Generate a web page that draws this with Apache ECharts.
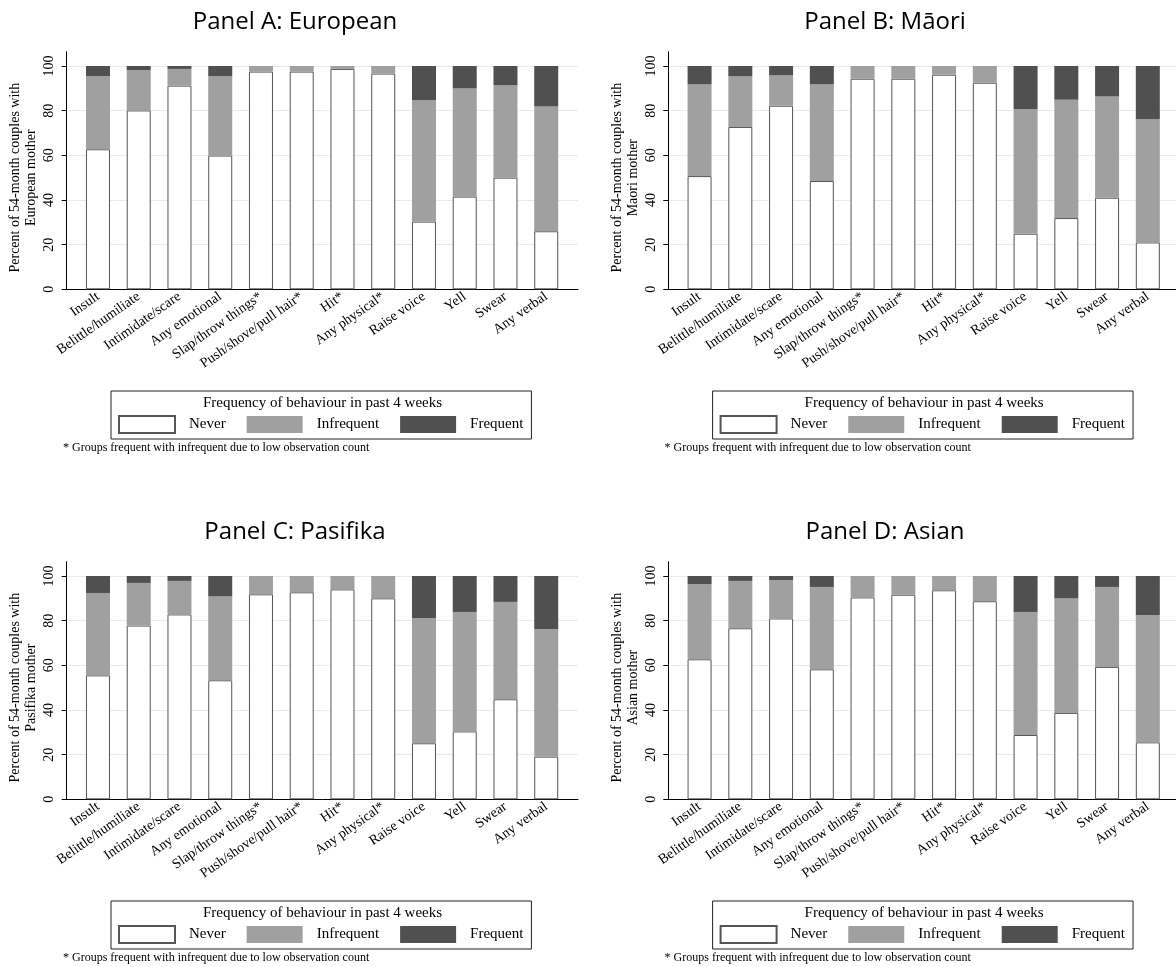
<!DOCTYPE html>
<html>
<head>
<meta charset="utf-8">
<script src="https://cdn.jsdelivr.net/npm/echarts@6/dist/echarts.min.js"></script>
<style>
  html, body { margin: 0; padding: 0; background: #fff; }
  #chart { width: 1176px; height: 967px; }
</style>
</head>
<body>
<div id="chart"></div>
<script>
// Behaviour categories shown on every panel's x axis
const categories = ["Insult", "Belittle/humiliate", "Intimidate/scare", "Any emotional",
  "Slap/throw things*", "Push/shove/pull hair*", "Hit*", "Any physical*",
  "Raise voice", "Yell", "Swear", "Any verbal"];

const seriesNames = ["Never", "Infrequent", "Frequent"];
const yTicks = [0, 20, 40, 60, 80, 100];

// Percent of couples in each frequency group (segments stack to 100)
const europeanNever      = [62.7, 80.1, 91.2, 59.9, 97.5, 97.5, 98.7, 96.6, 30.3, 41.5, 50.0, 26.0];
const europeanInfrequent = [32.8, 18.0,  7.5, 35.6,  2.5,  2.5,  1.3,  3.4, 54.3, 48.5, 41.3, 55.9];
const europeanFrequent   = [ 4.5,  1.9,  1.3,  4.5,  0,    0,    0,    0,   15.4, 10.0,  8.7, 18.1];

const maoriNever      = [50.7, 72.7, 82.2, 48.5, 94.3, 94.3, 96.1, 92.5, 24.9, 31.9, 41.0, 21.0];
const maoriInfrequent = [41.1, 22.7, 13.6, 43.3,  5.7,  5.7,  3.9,  7.5, 55.7, 53.0, 45.4, 55.1];
const maoriFrequent   = [ 8.2,  4.6,  4.2,  8.2,  0,    0,    0,    0,   19.4, 15.1, 13.6, 23.9];

const pasifikaNever      = [55.5, 77.8, 82.8, 53.3, 91.8, 92.7, 94.0, 90.0, 25.1, 30.4, 44.8, 19.1];
const pasifikaInfrequent = [36.9, 19.1, 15.0, 37.7,  8.2,  7.3,  6.0, 10.0, 56.1, 53.5, 43.6, 57.2];
const pasifikaFrequent   = [ 7.6,  3.1,  2.2,  9.0,  0,    0,    0,    0,   18.8, 16.1, 11.6, 23.7];

const asianNever      = [62.7, 76.6, 81.0, 58.2, 90.4, 91.6, 93.6, 88.7, 28.8, 38.7, 59.3, 25.5];
const asianInfrequent = [33.7, 21.2, 17.2, 36.9,  9.6,  8.4,  6.4, 11.3, 55.1, 51.4, 35.8, 57.0];
const asianFrequent   = [ 3.6,  2.2,  1.8,  4.9,  0,    0,    0,    0,   16.1,  9.9,  4.9, 17.5];

const panelTitles = ["Panel A: European", "Panel B: M\u0101ori", "Panel C: Pasifika", "Panel D: Asian"];
const yTitles = [
  "Percent of 54-month couples with\nEuropean mother",
  "Percent of 54-month couples with\nMaori mother",
  "Percent of 54-month couples with\nPasifika mother",
  "Percent of 54-month couples with\nAsian mother"
];
const legendTitle = "Frequency of behaviour in past 4 weeks";
const footnote = "* Groups frequent with infrequent due to low observation count";

const panelData = [
  [europeanNever, europeanInfrequent, europeanFrequent],
  [maoriNever, maoriInfrequent, maoriFrequent],
  [pasifikaNever, pasifikaInfrequent, pasifikaFrequent],
  [asianNever, asianInfrequent, asianFrequent]
];

// Layout of one panel, shifted per panel
const panelOffsets = [[0, 0], [601.6, 0], [0, 510], [601.6, 510]];
const titleCenters = [[295, 22], [885, 22], [295, 532], [885, 532]];

const SERIF = '"Liberation Serif", "Times New Roman", serif';
const SANS = '"Open Sans", "Noto Sans", sans-serif';
const fills = ["#ffffff", "#a0a0a0", "#505050"];

const grids = [], xAxes = [], yAxes = [], series = [], legends = [], graphics = [];

panelData.forEach((segs, i) => {
  const [dx, dy] = panelOffsets[i];
  const gFrame = i * 3, gGuide = i * 3 + 1, gBars = i * 3 + 2;

  // frame: y axis line reaching above the 100 gridline
  grids.push({ left: 66.7 + dx, top: 51.7 + dy, width: 511.3, height: 237.6 });
  // guide: gridlines, y labels, x baseline
  grids.push({ left: 66.7 + dx, top: 66 + dy, width: 511.3, height: 223.3 });
  // bars: category bands inset from the axis ends
  grids.push({ left: 77.6 + dx, top: 66 + dy, width: 489, height: 223.3 });

  xAxes.push({ gridIndex: gFrame, type: 'value', show: false });
  xAxes.push({
    gridIndex: gGuide, type: 'value', min: 0, max: 1,
    axisLine: { show: true, lineStyle: { color: '#000', width: 1 } },
    axisTick: { show: false }, axisLabel: { show: false }, splitLine: { show: false }
  });
  xAxes.push({
    gridIndex: gBars, type: 'category', data: categories, boundaryGap: true,
    axisLine: { show: false }, axisTick: { show: false },
    axisLabel: { interval: 0, rotate: 35, margin: 6, fontFamily: SERIF, fontSize: 14, color: '#000' }
  });

  yAxes.push({
    gridIndex: gFrame, type: 'value', min: 0, max: 1,
    axisLine: { show: true, lineStyle: { color: '#000', width: 1 } },
    axisTick: { show: false }, axisLabel: { show: false }, splitLine: { show: false }
  });
  yAxes.push({
    gridIndex: gGuide, type: 'value', min: yTicks[0], max: yTicks[yTicks.length - 1], interval: 20,
    axisLine: { show: false },
    axisTick: { show: true, inside: false, length: 5, lineStyle: { color: '#000' } },
    axisLabel: { rotate: 90, margin: 10, fontFamily: SERIF, fontSize: 14, color: '#000' },
    splitLine: { show: true, lineStyle: { color: '#e4ecec', width: 1 } },
    name: yTitles[i], nameLocation: 'middle', nameRotate: 90, nameGap: 27,
    nameTextStyle: { fontFamily: SERIF, fontSize: 14, color: '#000', lineHeight: 16 }
  });
  yAxes.push({ gridIndex: gBars, type: 'value', min: 0, max: 100, show: false });

  segs.forEach((vals, k) => {
    series.push({
      name: seriesNames[k], type: 'bar', stack: 'panel' + i,
      xAxisIndex: gBars, yAxisIndex: gBars, barWidth: 24,
      itemStyle: k === 0
        ? { color: fills[0], borderColor: '#555555', borderWidth: 1 }
        : { color: fills[k] },
      emphasis: { disabled: true },
      data: vals
    });
  });

  legends.push({
    data: seriesNames, selectedMode: false, icon: 'rect', orient: 'horizontal',
    left: 111 + dx, top: 391 + dy,
    itemWidth: 56, itemHeight: 17, itemGap: 21,
    padding: [24, 8, 5, 7],
    borderColor: '#222', borderWidth: 1,
    textStyle: { fontFamily: SERIF, fontSize: 15, color: '#000', padding: [0, 0, 0, 9] }
  });

  graphics.push({
    type: 'text', x: titleCenters[i][0], y: titleCenters[i][1],
    style: { text: panelTitles[i], font: '24px ' + SANS, fill: '#000', align: 'center', verticalAlign: 'middle' }
  });
  graphics.push({
    type: 'text', x: 322.5 + dx, y: 403 + dy,
    style: { text: legendTitle, font: '15px ' + SERIF, fill: '#000', align: 'center', verticalAlign: 'middle' }
  });
  graphics.push({
    type: 'text', x: 63 + dx, y: 448 + dy,
    style: { text: footnote, font: '12px ' + SERIF, fill: '#000', align: 'left', verticalAlign: 'middle' }
  });
});

const chart = echarts.init(document.getElementById('chart'), null, { renderer: 'canvas' });
chart.setOption({
  animation: false,
  backgroundColor: '#ffffff',
  grid: grids,
  xAxis: xAxes,
  yAxis: yAxes,
  legend: legends,
  series: series,
  graphic: graphics
});
</script>
</body>
</html>
